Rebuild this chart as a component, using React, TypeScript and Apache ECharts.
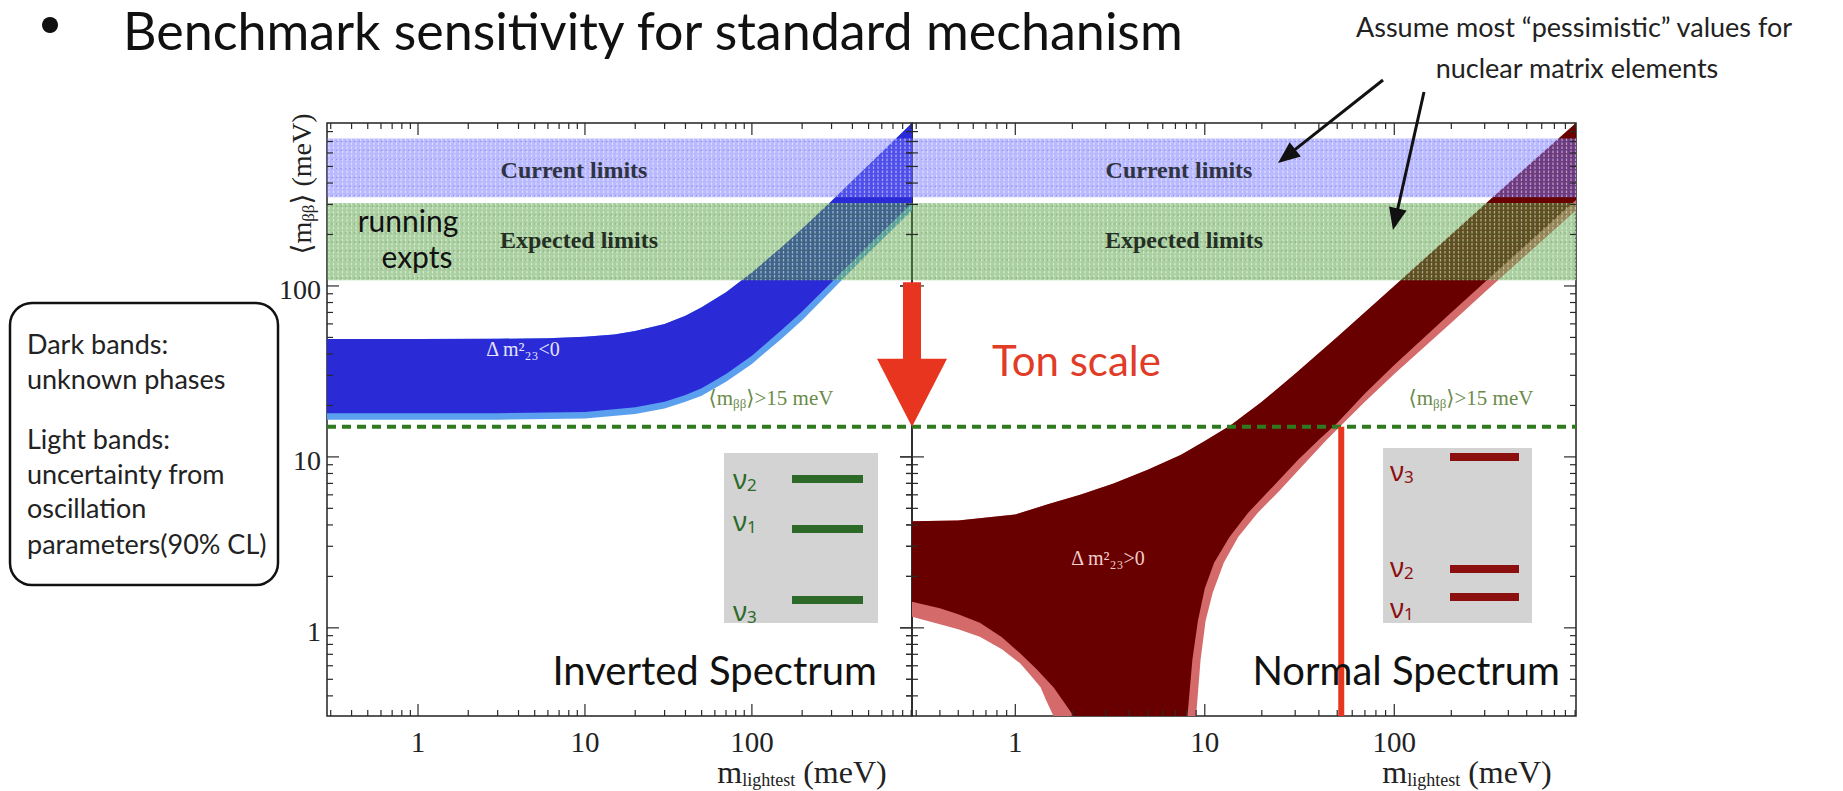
import React, { useEffect, useRef } from "react";
import * as echarts from "echarts";

// ---------------- data (meV) ----------------
const X_RANGE = [0.285, 910];
const Y_RANGE = [0.305, 898];
const MAJOR_TICKS = [1, 10, 100];
const MINOR_TICKS = [0.3, 0.4, 0.5, 0.6, 0.7, 0.8, 0.9, 2, 3, 4, 5, 6, 7, 8, 9, 20, 30, 40, 50, 60, 70, 80, 90, 200, 300, 400, 500, 600, 700, 800, 900];
const CURRENT_LIMITS = [330, 730];
const EXPECTED_LIMITS = [108, 306];
const SENSITIVITY = 15;
const TON_SCALE_MLIGHT = 52.5;

// Inverted hierarchy band
const IH_UPPER = [[0.285, 49], [1, 49], [3, 49.1], [6, 49.5], [10, 50.5], [15, 52], [20, 54.5], [30, 60], [40, 67], [50, 75], [70, 92], [100, 120], [150, 168], [200, 216], [300, 314], [500, 510], [910, 898]];
const IH_LOWER_DARK = [[0.285, 18], [3, 18], [10, 18.3], [20, 19.5], [30, 21], [40, 23], [50, 25.2], [70, 30.5], [100, 39], [150, 55], [200, 71], [300, 105], [500, 173], [910, 306]];
const IH_LOWER_LIGHT = [[0.285, 16.5], [3, 16.5], [10, 16.8], [20, 17.8], [30, 19.2], [40, 21], [50, 22.8], [70, 27.5], [100, 35], [150, 49], [200, 63], [300, 94], [500, 156], [910, 277]];

// Normal hierarchy band
const NH_UPPER = [[0.285, 4.2], [0.5, 4.25], [1, 4.6], [1.5, 5.3], [2.2, 6.0], [3.3, 7.0], [5, 8.4], [7.5, 10.3], [10, 12.4], [13.7, 15.3], [20, 21], [30, 30.6], [50, 50.2], [100, 100], [300, 300], [910, 898]];
const NH_RIGHT_DARK = [[910, 318], [500, 175], [300, 105], [200, 70], [100, 34.5], [70, 23.5], [50, 15.8], [40, 12.6], [31, 9.6], [22, 6.4], [16.9, 4.7], [13.5, 3.4], [11.2, 2.4], [10, 1.7], [9.2, 1.1], [8.6, 0.65], [8.1, 0.305]];
const NH_LEFT_DARK = [[2.03, 0.305], [1.8, 0.37], [1.59, 0.45], [1.3, 0.57], [1.06, 0.71], [0.85, 0.88], [0.65, 1.07], [0.5, 1.2], [0.4, 1.3], [0.285, 1.42]];
const NH_RIGHT_LIGHT = [[910, 277], [500, 153], [300, 92], [200, 61], [100, 30.5], [70, 21], [54, 15.8], [44, 12.6], [35, 9.6], [25, 6.4], [19, 4.7], [15, 3.4], [12.6, 2.4], [11, 1.6], [10.1, 1.1], [9.5, 0.65], [9, 0.305]];
const NH_LEFT_LIGHT = [[1.59, 0.305], [1.45, 0.38], [1.36, 0.45], [1.2, 0.53], [1.06, 0.62], [0.85, 0.75], [0.65, 0.886], [0.5, 0.98], [0.4, 1.05], [0.285, 1.16]];

const NOTE_LINES = ["Dark bands:", "unknown phases", "Light bands:", "uncertainty from", "oscillation", "parameters(90% CL)"];

// ---------------- helpers ----------------
const SANS = "Lato, 'Noto Sans', sans-serif";
const SERIF = "'Liberation Serif', 'DejaVu Serif', serif";

const IH_LIGHT_POLY = [...IH_UPPER, ...IH_LOWER_LIGHT.slice().reverse()];
const IH_DARK_POLY = [...IH_UPPER, ...IH_LOWER_DARK.slice().reverse()];
const NH_LIGHT_POLY = [...NH_UPPER, ...NH_RIGHT_LIGHT, ...NH_LEFT_LIGHT];
const NH_DARK_POLY = [...NH_UPPER, ...NH_RIGHT_DARK, ...NH_LEFT_DARK];

function polySeries(g: number, pts: number[][], color: string, z: number) {
  return {
    type: "custom", xAxisIndex: g, yAxisIndex: g, z, clip: true, silent: true,
    data: [[1, 1]],
    renderItem: (_p: any, api: any) => ({
      type: "polygon",
      shape: { points: pts.map((p) => api.coord(p)) },
      style: { fill: color },
    }),
  };
}

function hatchSeries(g: number, lim: number[], fill: string, dot: string, z: number) {
  return {
    type: "custom", xAxisIndex: g, yAxisIndex: g, z, clip: true, silent: true,
    data: [[1, 1]],
    renderItem: (_p: any, api: any) => {
      const a = api.coord([X_RANGE[0], lim[1]]);
      const b = api.coord([X_RANGE[1], lim[0]]);
      const children: any[] = [
        { type: "rect", shape: { x: a[0], y: a[1], width: b[0] - a[0], height: b[1] - a[1] }, style: { fill } },
      ];
      for (let x = a[0] + 2; x < b[0]; x += 4.5) {
        children.push({
          type: "line",
          shape: { x1: x, y1: a[1], x2: x, y2: b[1] },
          style: { stroke: "rgba(255,255,255,0.5)", lineWidth: 1.3, lineDash: [2.5, 1.5] },
        });
      }
      for (let y = a[1] + 3; y < b[1]; y += 9) {
        children.push({
          type: "line",
          shape: { x1: a[0], y1: y, x2: b[0], y2: y },
          style: { stroke: dot, lineWidth: 1, lineDash: [1.5, 3] },
        });
      }
      return { type: "group", children };
    },
  };
}

function tickSeries(g: number) {
  const data = [...MAJOR_TICKS.map((v) => [v, 2]), ...MINOR_TICKS.map((v) => [v, 1])];
  return {
    type: "custom", xAxisIndex: g, yAxisIndex: g, z: 8, silent: true,
    data,
    renderItem: (params: any, api: any) => {
      const v = api.value(0);
      const major = api.value(1) === 2;
      const cs = params.coordSys;
      const len = major ? 12 : 6;
      const st = { stroke: "#2a2a2a", lineWidth: 1.2 };
      const ch: any[] = [];
      if (v >= X_RANGE[0] && v <= X_RANGE[1]) {
        const px = api.coord([v, Y_RANGE[0]])[0];
        const yb = cs.y + cs.height;
        ch.push({ type: "line", shape: { x1: px, y1: yb, x2: px, y2: yb - len }, style: st });
        ch.push({ type: "line", shape: { x1: px, y1: cs.y, x2: px, y2: cs.y + len }, style: st });
        if (major) {
          ch.push({
            type: "text",
            style: { text: String(v), x: px, y: yb + 26, font: `29px ${SERIF}`, fill: "#222", align: "center", verticalAlign: "middle", textAlign: "center", textVerticalAlign: "middle" },
          });
        }
      }
      if (v >= Y_RANGE[0] && v <= Y_RANGE[1]) {
        const py = api.coord([X_RANGE[0], v])[1];
        const xr = cs.x + cs.width;
        ch.push({ type: "line", shape: { x1: cs.x, y1: py, x2: cs.x + len, y2: py }, style: st });
        ch.push({ type: "line", shape: { x1: xr, y1: py, x2: xr - len, y2: py }, style: st });
        if (g === 1) {
          ch.push({ type: "line", shape: { x1: cs.x, y1: py, x2: cs.x - len, y2: py }, style: st });
        }
        if (major && g === 0) {
          ch.push({
            type: "text",
            style: { text: String(v), x: cs.x - 6, y: py + 4, font: `28px ${SERIF}`, fill: "#222", align: "right", verticalAlign: "middle", textAlign: "right", textVerticalAlign: "middle" },
          });
        }
      }
      return { type: "group", children: ch };
    },
  };
}

function lineSeries(g: number, data: number[][], color: string, width: number, type: any, z: number) {
  return {
    type: "line", xAxisIndex: g, yAxisIndex: g, z, silent: true, symbol: "none",
    data, lineStyle: { color, width, type }, clip: true,
  };
}

function buildOption() {
  const grids = [
    { left: 327, top: 123, width: 585, height: 593 },
    { left: 912, top: 123, width: 664, height: 593 },
  ].map((gr) => ({ ...gr, show: true, borderColor: "#222", borderWidth: 1.5, backgroundColor: "transparent" }));
  const axisBase = { type: "log", logBase: 10, axisLine: { show: false }, axisTick: { show: false }, axisLabel: { show: false }, splitLine: { show: false } };
  const series: any[] = [];
  series.push(polySeries(0, IH_LIGHT_POLY, "#5aa0ee", 2));
  series.push(polySeries(0, IH_DARK_POLY, "#2a2ad6", 2));
  series.push(polySeries(1, NH_LIGHT_POLY, "#d46a6a", 2));
  series.push(polySeries(1, NH_DARK_POLY, "#690000", 2));
  for (const g of [0, 1]) {
    series.push(hatchSeries(g, CURRENT_LIMITS, "rgba(115,115,255,0.5)", "rgba(70,70,200,0.35)", 3));
    series.push(hatchSeries(g, EXPECTED_LIMITS, "rgba(85,160,65,0.5)", "rgba(40,100,30,0.35)", 3));
    series.push(lineSeries(g, [[X_RANGE[0], SENSITIVITY], [X_RANGE[1], SENSITIVITY]], "#2f7a1f", 4, [9, 6], 5));
    series.push(tickSeries(g));
  }
  series.push(lineSeries(1, [[TON_SCALE_MLIGHT, SENSITIVITY], [TON_SCALE_MLIGHT, Y_RANGE[0]]], "#e8351f", 6, "solid", 6));
  return {
    animation: false,
    grid: grids,
    xAxis: [0, 1].map((g) => ({ ...axisBase, gridIndex: g, min: X_RANGE[0], max: X_RANGE[1] })),
    yAxis: [0, 1].map((g) => ({ ...axisBase, gridIndex: g, min: Y_RANGE[0], max: Y_RANGE[1] })),
    series,
  };
}

function txt(x: number, y: number, text: string, font: string, fill: string, align = "left", extra: any = {}) {
  return {
    type: "text", x, y, z: 20,
    style: { text, font, fill, align, verticalAlign: "middle", textAlign: align, textVerticalAlign: "middle", ...extra },
  };
}

function arrow(x1: number, y1: number, x2: number, y2: number, color: string, w: number, hl: number, hw: number) {
  const dx = x2 - x1, dy = y2 - y1;
  const L = Math.hypot(dx, dy);
  const ux = dx / L, uy = dy / L;
  const bx = x2 - ux * hl, by = y2 - uy * hl;
  return [
    { type: "line", z: 20, shape: { x1, y1, x2: bx + ux * 2, y2: by + uy * 2 }, style: { stroke: color, lineWidth: w } },
    { type: "polygon", z: 20, shape: { points: [[x2, y2], [bx - uy * hw, by + ux * hw], [bx + uy * hw, by - ux * hw]] }, style: { fill: color } },
  ];
}

function buildGraphic(chart: any) {
  const g: any[] = [];
  const p0 = (x: number, y: number) => chart.convertToPixel({ xAxisIndex: 0, yAxisIndex: 0 }, [x, y]);

  // title
  g.push({ type: "circle", z: 20, shape: { cx: 50, cy: 25, r: 8 }, style: { fill: "#111" } });
  g.push(txt(123, 30, "Benchmark sensitivity for standard mechanism", `52px ${SANS}`, "#111"));
  g.push(txt(1574, 26, "Assume most \u201cpessimistic\u201d values for", `27px ${SANS}`, "#222", "center"));
  g.push(txt(1577, 67, "nuclear matrix elements", `27px ${SANS}`, "#222", "center"));
  g.push(...arrow(1383, 80, 1278, 163, "#111", 3, 22, 9));
  g.push(...arrow(1424, 92, 1393, 230, "#111", 3, 22, 9));

  // left note box
  g.push({ type: "rect", z: 20, shape: { x: 10, y: 303, width: 268, height: 282, r: 22 }, style: { fill: "#fff", stroke: "#111", lineWidth: 2.5 } });
  const noteY = [343, 378, 438, 473, 507, 543];
  NOTE_LINES.forEach((s, i) => g.push(txt(27, noteY[i], s, `27px ${SANS}`, "#222")));

  // limit labels
  const limFont = `bold 24px ${SERIF}`;
  g.push(txt(574, 170, "Current limits", limFont, "#2f3342", "center"));
  g.push(txt(579, 240, "Expected limits", limFont, "#243024", "center"));
  g.push(txt(1179, 170, "Current limits", limFont, "#2f3342", "center"));
  g.push(txt(1184, 240, "Expected limits", limFont, "#243024", "center"));
  g.push(txt(408, 220, "running", `30px ${SANS}`, "#111", "center"));
  g.push(txt(417, 256, "expts", `30px ${SANS}`, "#111", "center"));

  // sensitivity labels
  const sensRich = {
    a: { fontFamily: SERIF, fontSize: 21, fill: "#6a8a4a" },
    s: { fontFamily: SERIF, fontSize: 13, fill: "#6a8a4a", padding: [11, 0, 0, 0] },
  };
  g.push(txt(771, 398, "{a|\u27e8m}{s|\u03b2\u03b2}{a|\u27e9>15 meV}", "", "#6a8a4a", "center", { rich: sensRich }));
  g.push(txt(1471, 398, "{a|\u27e8m}{s|\u03b2\u03b2}{a|\u27e9>15 meV}", "", "#6a8a4a", "center", { rich: sensRich }));

  // band labels
  g.push(txt(523, 349, "\u0394 m\u00b2\u2082\u2083<0", `20px ${SERIF}`, "#e4e4ff", "center"));
  g.push(txt(1108, 558, "\u0394 m\u00b2\u2082\u2083>0", `20px ${SERIF}`, "#f2cccc", "center"));

  // Ton scale arrow
  const top = p0(X_RANGE[1], EXPECTED_LIMITS[0]);
  const tip = p0(X_RANGE[1], SENSITIVITY);
  const cx = top[0];
  g.push({ type: "rect", z: 19, shape: { x: cx - 9, y: top[1] + 2, width: 18, height: tip[1] - 66 - top[1] }, style: { fill: "#e8351f" } });
  g.push({ type: "polygon", z: 19, shape: { points: [[cx - 35, tip[1] - 68], [cx + 35, tip[1] - 68], [cx, tip[1]]] }, style: { fill: "#e8351f" } });
  g.push(txt(992, 360, "Ton scale", `42px ${SANS}`, "#e03c28"));

  // spectrum names
  g.push(txt(877, 670, "Inverted Spectrum", `40px ${SANS}`, "#111", "right"));
  g.push(txt(1560, 670, "Normal Spectrum", `40px ${SANS}`, "#111", "right"));

  // axis titles
  const axRich = {
    m: { fontFamily: SERIF, fontSize: 32, fill: "#222" },
    s: { fontFamily: SERIF, fontSize: 18, fill: "#222", padding: [16, 0, 0, 0] },
  };
  g.push(txt(802, 772, "{m|m}{s|lightest}{m| (meV)}", "", "#222", "center", { rich: axRich }));
  g.push(txt(1467, 772, "{m|m}{s|lightest}{m| (meV)}", "", "#222", "center", { rich: axRich }));
  g.push({
    type: "text", x: 301, y: 184, rotation: Math.PI / 2, z: 20,
    style: {
      text: "{m|\u27e8m}{s|\u03b2\u03b2}{m|\u27e9 (meV)}",
      rich: { m: { fontFamily: SERIF, fontSize: 28, fill: "#222" }, s: { fontFamily: SERIF, fontSize: 17, fill: "#222", padding: [14, 0, 0, 0] } },
      align: "center", verticalAlign: "middle", textAlign: "center", textVerticalAlign: "middle",
    },
  });

  // level insets
  const nuRich = (c: string) => ({
    v: { fontFamily: "'Noto Sans', sans-serif", fontSize: 27, fill: c },
    d: { fontFamily: "'Noto Sans', sans-serif", fontSize: 17, fill: c, padding: [12, 0, 0, 0] },
  });
  const green = "#2d6a2a";
  g.push({ type: "rect", z: 19, shape: { x: 724, y: 453, width: 154, height: 170 }, style: { fill: "#d3d3d3" } });
  [[479, 478, "2"], [529, 520, "1"], [600, 610, "3"]].forEach(([ly, ty, d]: any) => {
    g.push({ type: "rect", z: 20, shape: { x: 792, y: ly - 4, width: 71, height: 8 }, style: { fill: green } });
    g.push(txt(733, ty, `{v|\u03bd}{d|${d}}`, "", green, "left", { rich: nuRich(green) }));
  });
  const red = "#8c0f0f";
  g.push({ type: "rect", z: 19, shape: { x: 1383, y: 448, width: 149, height: 175 }, style: { fill: "#d3d3d3" } });
  [[457, 470, "3"], [569, 566, "2"], [597, 607, "1"]].forEach(([ly, ty, d]: any) => {
    g.push({ type: "rect", z: 20, shape: { x: 1450, y: ly - 4, width: 69, height: 8 }, style: { fill: red } });
    g.push(txt(1390, ty, `{v|\u03bd}{d|${d}}`, "", red, "left", { rich: nuRich(red) }));
  });
  return g;
}

export default function App() {
  const ref = useRef<HTMLDivElement>(null);
  useEffect(() => {
    const el = ref.current as HTMLDivElement;
    const chart = echarts.init(el, null, { renderer: "svg" });
    chart.setOption(buildOption() as any);
    chart.setOption({ graphic: buildGraphic(chart) } as any);
    return () => chart.dispose();
  }, []);
  return <div ref={ref} style={{ position: "fixed", left: 0, top: 0, width: 1843, height: 791, background: "#fff" }} />;
}
